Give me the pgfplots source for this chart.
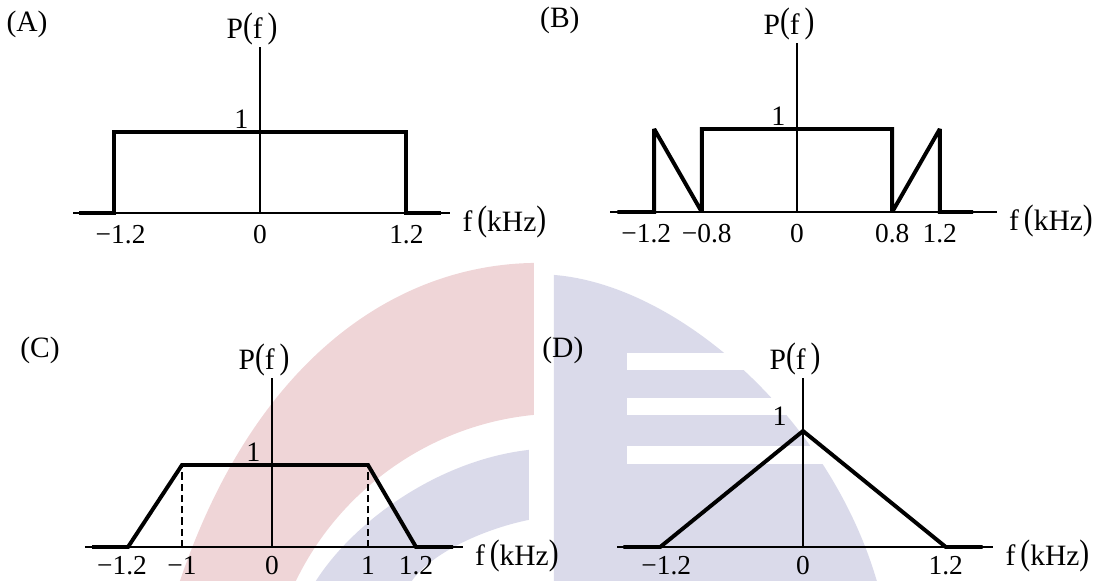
\documentclass[border=0pt]{standalone}
\usepackage{fontspec}
\setmainfont{Liberation Serif}
\usepackage{graphicx}
\usepackage{pgfplots}
\pgfplotsset{compat=1.18}

\definecolor{wmred}{HTML}{EFD5D7}
\definecolor{wmblue}{HTML}{DADAEA}

% tall parentheses as in the equation objects of the source
\newcommand\lp{\raisebox{0.04em}{\scalebox{1}[1.2]{(}}}
\newcommand\rp{\raisebox{0.04em}{\scalebox{1}[1.2]{)}}}
\newcommand\Pf{P\lp f\,\rp}
\newcommand\fk{f\,\lp kHz\rp}

\pgfplotsset{
  sig/.style={
    axis lines=middle,
    axis line style={-, line width=0.9pt},
    clip=false, ymin=0,
    major tick length=0pt,
    anchor=origin,
    ytick={1}, yticklabels={1},
    yticklabel style={anchor=south east, inner sep=0pt,
      font=\fontsize{20}{20}\selectfont, xshift=-0.28cm, yshift=0.09cm},
    xticklabel style={anchor=north, inner sep=0pt,
      font=\fontsize{19.5}{19.5}\selectfont, yshift=-0.3cm},
  },
  % shifts add up: this lifts the lower row's tick labels a little
  low/.style={xticklabel style={yshift=0.08cm}},
  thk/.style={black, line width=2.8pt, line join=miter, miter limit=2},
}
\tikzset{
  plab/.style={anchor=south, inner sep=0pt, font=\fontsize{21}{21}\selectfont, xshift=-0.2cm, yshift=0.05cm},
  flab/.style={anchor=west, inner sep=0pt, font=\fontsize{21}{21}\selectfont, xshift=0.3cm, yshift=-0.22cm},
  zlab/.style={anchor=north, inner sep=0pt, font=\fontsize{19.5}{19.5}\selectfont, yshift=-0.3cm},
  zlow/.style={zlab, yshift=0.08cm},
  panel/.style={font=\fontsize{21}{21}\selectfont},
}

\begin{document}
\begin{tikzpicture}
\path[use as bounding box] (0,0) rectangle (27.45,-14.525);

% watermark, drawn in pixel units of the reference
\begin{scope}[x=0.025cm, y=-0.025cm]
  \fill[wmred] (534,263) .. controls (395,265) and (255,360) .. (180,581)
     -- (296,581) .. controls (340,490) and (430,425) .. (534,415) -- cycle;
  \fill[wmblue] (529,450) .. controls (440,460) and (355,520) .. (316,581)
     -- (412,581) .. controls (430,555) and (480,530) .. (529,520) -- cycle;
  \fill[wmblue] (554,275) .. controls (680,285) and (830,420) .. (877,581)
     -- (554,581) -- cycle;
  \fill[white] (627,353) rectangle (850,370);
  \fill[white] (627,398) rectangle (850,415);
  \fill[white] (627,446) rectangle (850,464);
  \node[panel] at (27,24) {(A)};
  \node[panel] at (560,20) {(B)};
  \node[panel] at (40,350) {(C)};
  \node[panel] at (563,350) {(D)};
\end{scope}

% (A)
\begin{axis}[sig, at={(6.5cm,-5.325cm)}, x=3.05cm, y=2.025cm,
  xmin=-1.53, xmax=1.56, ymax=2.05,
  xtick={-1.2,1.2}, xticklabels={\kern0.35cm−1.2,1.2}]
\addplot[thk] coordinates {(-1.48,0) (-1.2,0) (-1.2,1) (1.2,1) (1.2,0) (1.48,0)};
\node[zlab] at (axis cs:0,0) {0};
\node[plab] at (axis cs:0,2.05) {\Pf};
\node[flab] at (axis cs:1.56,0) {\fk};
\end{axis}

% (B)
\begin{axis}[sig, at={(19.925cm,-5.3cm)}, x=2.975cm, y=2.075cm,
  xmin=-1.57, xmax=1.68, ymax=2.04,
  xtick={-1.2,-0.8,0.8,1.2},
  xticklabels={−1.2\kern0.4cm,\kern0.25cm−0.8,0.8,1.2}]
\addplot[thk] coordinates {(-1.51,0) (-1.2,0) (-1.2,1) (-0.8,0) (-0.8,1)
  (0.8,1) (0.8,0) (1.2,1) (1.2,0) (1.48,0)};
\node[zlab] at (axis cs:0,0) {0};
\node[plab] at (axis cs:0,2.04) {\Pf};
\node[flab] at (axis cs:1.68,0) {\fk};
\end{axis}

% (C)
\begin{axis}[sig, low, at={(6.8cm,-13.675cm)}, x=3.0cm, y=2.05cm,
  xmin=-1.56, xmax=1.59, ymax=2.06,
  xtick={-1.2,-0.75,0.8,1.2},
  xticklabels={−1.2\kern0.3cm,−1,1,1.2}]
\addplot[black, line width=0.8pt, dash pattern=on 5pt off 3pt] coordinates {(-0.75,0) (-0.75,1)};
\addplot[black, line width=0.8pt, dash pattern=on 5pt off 3pt] coordinates {(0.8,0) (0.8,1)};
\addplot[thk] coordinates {(-1.5,0) (-1.2,0) (-0.75,1) (0.8,1) (1.2,0) (1.51,0)};
\node[zlow] at (axis cs:0,0) {0};
\node[plab] at (axis cs:0,2.06) {\Pf};
\node[flab] at (axis cs:1.59,0) {\fk};
\end{axis}

% (D)
\begin{axis}[sig, low, at={(20.075cm,-13.675cm)}, x=2.975cm, y=2.9cm,
  xmin=-1.56, xmax=1.6, ymax=1.46,
  xtick={-1.2,1.2}, xticklabels={\kern0.3cm−1.2,1.2},
  yticklabel style={xshift=-0.12cm, yshift=0.05cm}]
\addplot[thk] coordinates {(-1.51,0) (-1.2,0) (0,1) (1.2,0) (1.51,0)};
\node[zlow] at (axis cs:0,0) {0};
\node[plab] at (axis cs:0,1.46) {\Pf};
\node[flab] at (axis cs:1.6,0) {\fk};
\end{axis}
\end{tikzpicture}
\end{document}
